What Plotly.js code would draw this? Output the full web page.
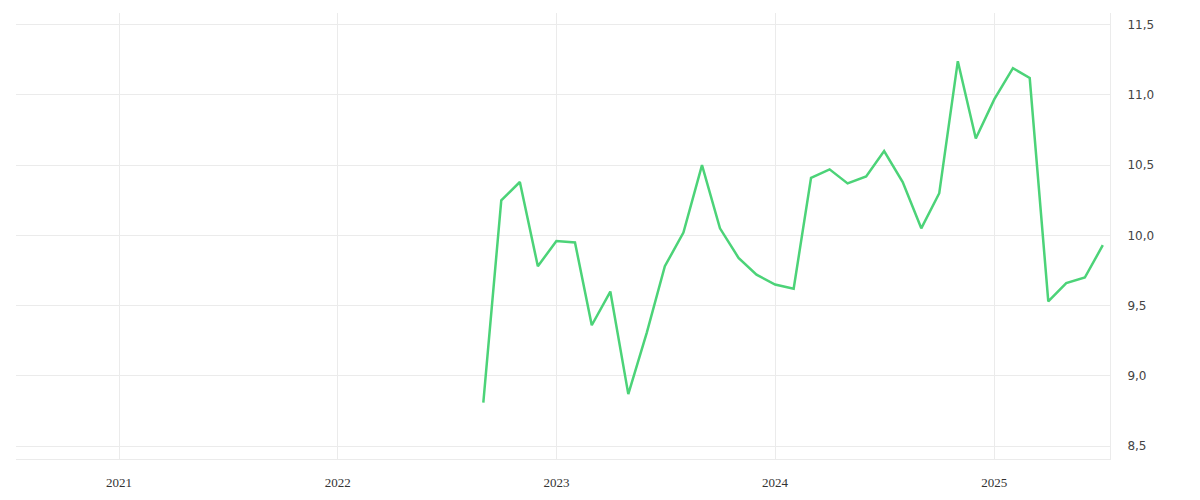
<!DOCTYPE html>
<html>
<head>
<meta charset="utf-8">
<script src="https://cdn.plot.ly/plotly-3.0.1.min.js"></script>
<style>html,body{margin:0;padding:0;background:#fff;}#chart{width:1200px;height:500px;}</style>
</head>
<body>
<div id="chart"></div>
<script>
const dates = ['2022-09-01','2022-10-01','2022-11-01','2022-12-01','2023-01-01','2023-02-01','2023-03-01','2023-04-01','2023-05-01','2023-06-01','2023-07-01','2023-08-01','2023-09-01','2023-10-01','2023-11-01','2023-12-01','2024-01-01','2024-02-01','2024-03-01','2024-04-01','2024-05-01','2024-06-01','2024-07-01','2024-08-01','2024-09-01','2024-10-01','2024-11-01','2024-12-01','2025-01-01','2025-02-01','2025-03-01','2025-04-01','2025-05-01','2025-06-01','2025-07-01'];
const values = [8.81,10.25,10.38,9.78,9.96,9.95,9.36,9.60,8.87,9.31,9.78,10.02,10.50,10.05,9.84,9.72,9.65,9.62,10.41,10.47,10.37,10.42,10.60,10.38,10.05,10.30,11.24,10.69,10.97,11.19,11.12,9.53,9.66,9.70,9.93];
const yTicks = [8.5,9.0,9.5,10.0,10.5,11.0,11.5];
const xTicks = ['2021-01-01','2022-01-01','2023-01-01','2024-01-01','2025-01-01'];
const xTickLabels = ['2021','2022','2023','2024','2025'];

const trace = {
  x: dates, y: values, type: 'scatter', mode: 'lines',
  line: {color: 'rgb(76,211,120)', width: 2.5},
  hoverinfo: 'x+y'
};
const layout = {
  width: 1200, height: 500,
  margin: {l: 16, r: 90, t: 13, b: 41},
  paper_bgcolor: '#fff', plot_bgcolor: '#fff',
  separators: ', ',
  showlegend: false,
  xaxis: {
    type: 'date',
    range: ['2020-07-13','2025-07-13'],
    tickmode: 'array', tickvals: xTicks, ticktext: xTickLabels,
    showgrid: true, gridcolor: '#ebebeb', gridwidth: 1,
    zeroline: false,
    showline: true, linecolor: '#ebebeb', linewidth: 1,
    ticks: '', ticklabelstandoff: 11,
    tickfont: {family: 'Liberation Serif, serif', size: 13, color: '#333'}
  },
  yaxis: {
    side: 'right',
    range: [8.408, 11.583],
    tickmode: 'array', tickvals: yTicks, tickformat: '.1f',
    showgrid: true, gridcolor: '#ebebeb', gridwidth: 1,
    zeroline: false,
    showline: true, linecolor: '#ebebeb', linewidth: 1,
    ticks: '', ticklabelstandoff: 14,
    tickfont: {family: 'DejaVu Sans, sans-serif', size: 12, color: '#444'}
  }
};
Plotly.newPlot('chart', [trace], layout, {displayModeBar: false, staticPlot: true});
</script>
</body>
</html>
